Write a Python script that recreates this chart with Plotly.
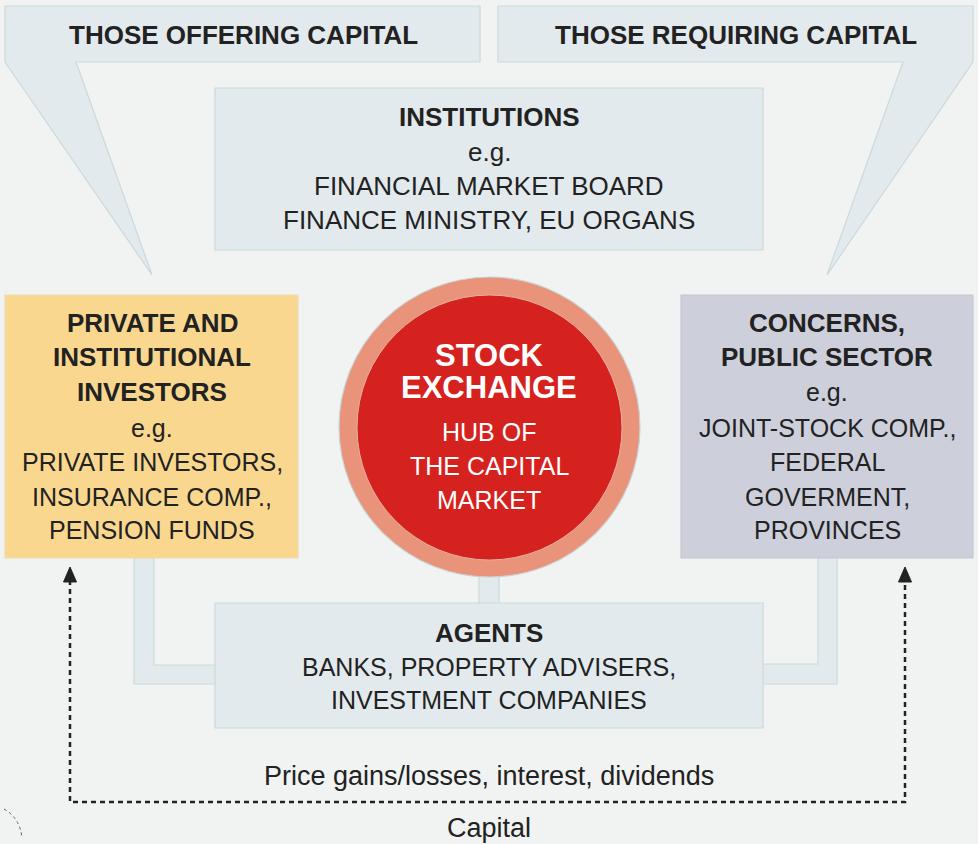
import plotly.graph_objects as go

W, H = 978, 844

# ---- text content ----
banner_labels = ["THOSE OFFERING CAPITAL", "THOSE REQUIRING CAPITAL"]
institutions_lines = ["INSTITUTIONS", "e.g.", "FINANCIAL MARKET BOARD", "FINANCE MINISTRY, EU ORGANS"]
investors_lines = ["PRIVATE AND", "INSTITUTIONAL", "INVESTORS", "e.g.", "PRIVATE INVESTORS,", "INSURANCE COMP.,", "PENSION FUNDS"]
investors_bold = [True, True, True, False, False, False, False]
concerns_lines = ["CONCERNS,", "PUBLIC SECTOR", "e.g.", "JOINT-STOCK COMP.,", "FEDERAL", "GOVERMENT,", "PROVINCES"]
concerns_bold = [True, True, False, False, False, False, False]
hub_lines = ["STOCK", "EXCHANGE", "HUB OF", "THE CAPITAL", "MARKET"]
hub_bold = [True, True, False, False, False]
agents_lines = ["AGENTS", "BANKS, PROPERTY ADVISERS,", "INVESTMENT COMPANIES"]
flow_labels = ["Price gains/losses, interest, dividends", "Capital"]

# ---- styles ----
BG = "#f1f3f2"
PALE = "#e3eaed"
PALE_LINE = "#cbd9db"
YELLOW = "#f9d78f"
GREY = "#cdcfdb"
RING = "#e9937a"
RED = "#d6221e"
TXT = "#222222"
FONT = "Liberation Sans, Arial, sans-serif"
BOLD_SIZE = 26
REG_SIZE = 25

fig = go.Figure()
shapes = []
annos = []


def poly(points, fill, line=PALE_LINE, width=1.2):
    d = "M " + " L ".join(f"{x},{y}" for x, y in points) + " Z"
    shapes.append(dict(type="path", path=d, fillcolor=fill,
                       line=dict(color=line, width=width), layer="above"))


def rect(x0, y0, x1, y1, fill, line=PALE_LINE):
    shapes.append(dict(type="rect", x0=x0, y0=y0, x1=x1, y1=y1, fillcolor=fill,
                       line=dict(color=line, width=1.2), layer="above"))


def text(x, y, s, bold=False, size=None, color=TXT):
    annos.append(dict(x=x, y=y, xref="x", yref="y", text=s, showarrow=False,
                      xanchor="center", yanchor="middle",
                      font=dict(family=FONT, size=size or (BOLD_SIZE if bold else REG_SIZE),
                                color=color, weight="bold" if bold else "normal")))


# speech-bubble banners
poly([(5, 6), (480, 6), (480, 62), (76, 62), (152, 275), (5, 62)], PALE)
poly([(498, 6), (973, 6), (973, 62), (827, 275), (903, 62), (498, 62)], PALE)

# connector pipes (behind boxes)
poly([(134, 550), (154, 550), (154, 665), (225, 665), (225, 684), (134, 684)], PALE)
poly([(837, 550), (818, 550), (818, 664), (755, 664), (755, 684), (837, 684)], PALE)
poly([(479, 560), (499, 560), (499, 610), (479, 610)], PALE)

# boxes
rect(215, 88, 763, 250, PALE)
rect(5, 295, 298, 558, YELLOW, line="#eadbb5")
rect(681, 295, 973, 558, GREY, line="#c4c8d2")
rect(215, 603, 763, 728, PALE)

# hub circle
shapes.append(dict(type="circle", x0=339, x1=640, y0=277, y1=577, fillcolor=RING,
                   line=dict(color="#c8d3d3", width=1.2), layer="above"))
shapes.append(dict(type="circle", x0=357, x1=622, y0=295, y1=560, fillcolor=RED,
                   line=dict(color="#e2b2a4", width=1), layer="above"))

# dashed flow lines
dash = dict(color=TXT, width=2.5, dash="5px,4px")
shapes.append(dict(type="path", path="M 70,580 L 70,802 L 905,802 L 905,580",
                   line=dash, layer="above"))
poly([(70, 567), (63.5, 582), (76.5, 582)], TXT, line=TXT, width=1)
poly([(905, 567), (898.5, 582), (911.5, 582)], TXT, line=TXT, width=1)
# small stray mark bottom-left
shapes.append(dict(type="path", path="M 4,809 Q 20,818 22,838",
                   line=dict(color="#556070", width=1, dash="3px,3px"), layer="above"))

# ---- texts ----
text(243, 35, banner_labels[0], bold=True)
text(736, 35, banner_labels[1], bold=True)

for s, y, b in zip(institutions_lines, [117, 152, 186, 220], [True, False, False, False]):
    text(489, y, s, bold=b, size=None if b else 26)

for s, y, b in zip(investors_lines, [323, 357, 392, 428, 462, 497, 530], investors_bold):
    text(152, y, s, bold=b)

for s, y, b in zip(concerns_lines, [323, 357, 392, 428, 462, 497, 530], concerns_bold):
    text(827, y, s, bold=b)

for s, y, b in zip(hub_lines, [355, 387, 432, 466, 500], hub_bold):
    text(489, y, s, bold=b, size=31 if b else 25, color="white")

for s, y, b in zip(agents_lines, [633, 667, 700], [True, False, False]):
    text(489, y, s, bold=b)

text(489, 776, flow_labels[0], size=27)
text(489, 828, flow_labels[1], size=27)

fig.update_layout(
    width=W, height=H,
    margin=dict(l=0, r=0, t=0, b=0),
    paper_bgcolor=BG, plot_bgcolor=BG,
    xaxis=dict(range=[0, W], visible=False, fixedrange=True),
    yaxis=dict(range=[H, 0], visible=False, fixedrange=True),
    shapes=shapes, annotations=annos, showlegend=False,
)
fig.write_html("out.html", config={"displayModeBar": False},
               post_script="document.body.style.margin='0';document.body.style.padding='0';document.body.style.overflow='hidden';")
